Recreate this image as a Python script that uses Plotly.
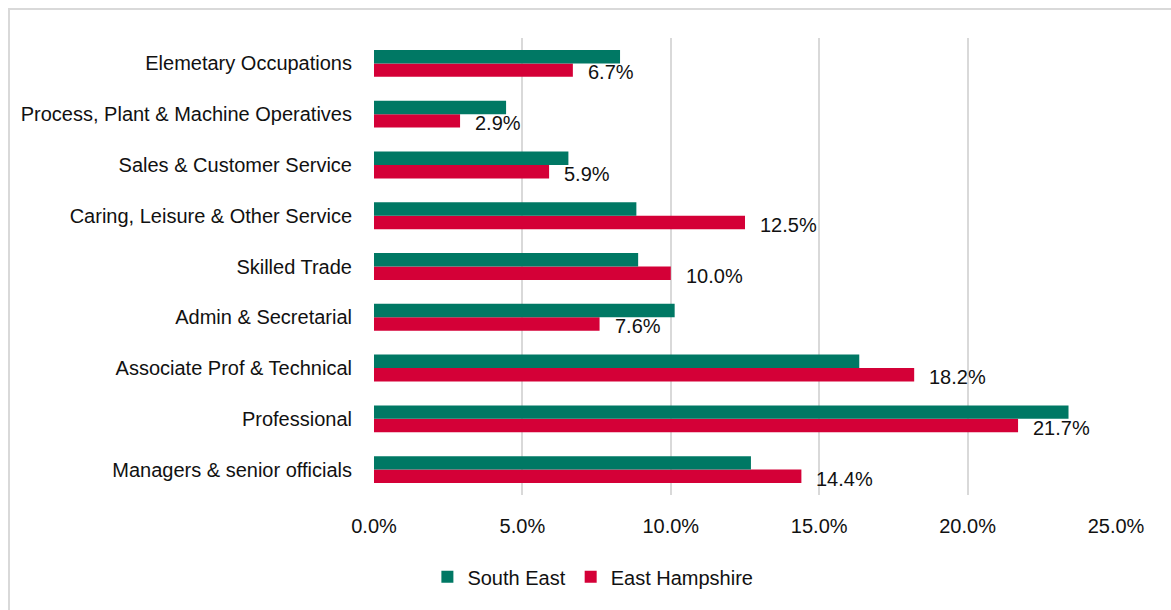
import plotly.graph_objects as go

# Occupation groups, listed bottom to top as they appear on the axis
categories = [
    "Managers & senior officials",
    "Professional",
    "Associate Prof & Technical",
    "Admin & Secretarial",
    "Skilled Trade",
    "Caring, Leisure & Other Service",
    "Sales & Customer Service",
    "Process, Plant & Machine Operatives",
    "Elemetary Occupations",
]

# Share of employment (%)
south_east = [12.7, 23.4, 16.35, 10.13, 8.9, 8.84, 6.55, 4.45, 8.29]
east_hampshire = [14.4, 21.7, 18.2, 7.6, 10.0, 12.5, 5.9, 2.9, 6.7]

x_ticks = [0, 5, 10, 15, 20, 25]
x_tick_labels = ["0.0%", "5.0%", "10.0%", "15.0%", "20.0%", "25.0%"]

GREEN = "#007864"
RED = "#d40037"
FONT = "Liberation Sans, Arial, sans-serif"
FS = 20
TEXT = "#111111"

fig = go.Figure()

# Horizontal grouped bars: the later trace sits on top within each group
fig.add_trace(go.Bar(
    y=categories, x=east_hampshire, orientation="h", name="East Hampshire",
    marker=dict(color=RED, line=dict(width=0)), legendrank=2,
))
fig.add_trace(go.Bar(
    y=categories, x=south_east, orientation="h", name="South East",
    marker=dict(color=GREEN, line=dict(width=0)), legendrank=1,
))

# Value labels for East Hampshire bars
for cat, val in zip(categories, east_hampshire):
    fig.add_annotation(
        x=val, y=cat, text=f"{val:.1f}%", showarrow=False,
        xanchor="left", yanchor="middle", xshift=13, yshift=-9,
        font=dict(family=FONT, size=FS, color=TEXT),
    )

# Light frame around the chart
fig.add_shape(
    type="rect", xref="paper", yref="paper",
    x0=-0.4919, x1=1.2, y0=-0.35, y1=1.0635,
    line=dict(color="#d9d9d9", width=2), fillcolor="rgba(0,0,0,0)", layer="below",
)

fig.update_layout(
    template="none",
    width=1171, height=610,
    margin=dict(l=374, r=55, t=38, b=115, autoexpand=False),
    paper_bgcolor="white", plot_bgcolor="white",
    barmode="group", bargap=0.47, bargroupgap=0,
    font=dict(family=FONT, size=FS, color=TEXT),
    showlegend=True,
    legend=dict(
        orientation="h", x=0.295, xanchor="center", y=-0.179, yanchor="middle",
        font=dict(family=FONT, size=FS, color=TEXT),
        traceorder="normal", bgcolor="rgba(0,0,0,0)",
    ),
    xaxis=dict(
        range=[0, 25], tickvals=x_ticks, ticktext=x_tick_labels,
        showgrid=True, gridcolor="#d9d9d9", gridwidth=2,
        zeroline=False, showline=False, automargin=False,
        ticks="outside", ticklen=13, tickcolor="rgba(0,0,0,0)",
        tickfont=dict(family=FONT, size=FS, color=TEXT),
        fixedrange=True,
    ),
    yaxis=dict(
        categoryorder="array", categoryarray=categories,
        showgrid=False, zeroline=False, showline=False, automargin=False,
        ticks="outside", ticklen=17, tickcolor="rgba(0,0,0,0)",
        tickfont=dict(family=FONT, size=FS, color=TEXT),
        fixedrange=True,
    ),
)

fig.write_html("out.html")
